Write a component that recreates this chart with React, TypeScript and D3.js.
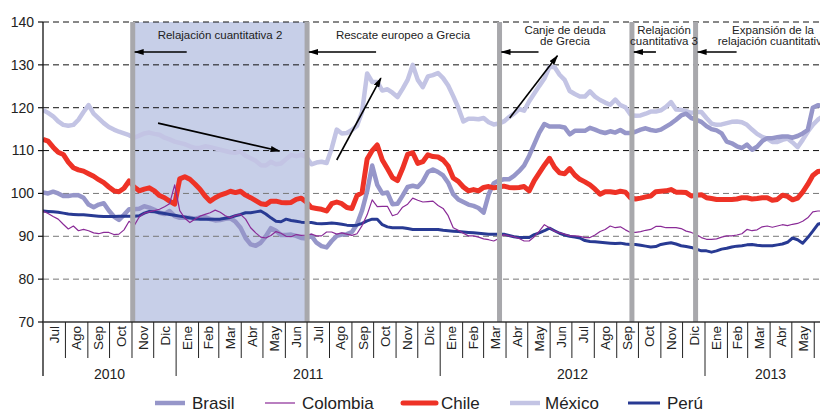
import React from 'react';
import * as d3 from 'd3';

const W = 820;
const H = 412;

const startDate = new Date(2010, 6, 1);
const yTicks = [70, 80, 90, 100, 110, 120, 130, 140];
const monthNames = ['Ene', 'Feb', 'Mar', 'Abr', 'May', 'Jun', 'Jul', 'Ago', 'Sep', 'Oct', 'Nov', 'Dic'];
const yearLabels = ['2010', '2011', '2012', '2013'];
const seriesNames = ['Brasil', 'Colombia', 'Chile', 'México', 'Perú'];

// weekly index values (start 1 Jul 2010)
const brasil = [
  100.2, 100.0, 100.4, 100.0, 99.4, 99.4, 99.6, 99.6, 99.0, 97.4,
  96.8, 97.4, 97.7, 96.0, 94.6, 93.8, 95.0, 96.3, 96.3, 96.4,
  97.0, 96.7, 96.2, 95.5, 95.2, 95.9, 94.7, 94.3, 94.3, 94.3,
  94.1, 94.4, 94.5, 94.0, 93.7, 93.8, 94.1, 94.2, 93.4, 92.0,
  89.6, 88.1, 87.8, 88.5, 90.0, 91.9, 91.3, 90.3, 90.3, 90.4,
  90.1, 89.6, 89.5, 90.1, 88.5, 87.7, 87.4, 88.9, 90.1, 90.4,
  90.5, 91.0, 92.8, 96.0, 100.5, 106.5, 102.0, 100.0, 100.2, 97.5,
  97.6, 99.5, 101.5, 101.8, 101.5, 102.8, 105.0, 105.6, 105.0, 104.2,
  102.5, 99.8, 98.6, 98.0, 97.4, 97.1, 96.6, 95.5, 99.8, 102.4,
  103.0, 103.3, 103.3, 104.1, 105.2, 106.5, 108.8, 111.5, 114.2, 116.2,
  115.6, 115.6, 115.6, 115.4, 113.8, 114.6, 114.6, 114.6, 115.3, 114.9,
  114.4, 114.1, 114.5, 114.2, 114.8, 114.1, 114.1, 114.4, 114.9, 115.2,
  114.8, 114.6, 114.9, 115.6, 116.3, 117.2, 118.2, 118.6, 117.6, 117.2,
  116.7, 115.7, 115.0, 114.7, 114.0, 112.1, 111.7, 111.0, 110.6, 111.4,
  110.2, 110.9, 112.2, 112.9, 112.9, 113.1, 113.3, 113.3, 113.0, 113.4,
  114.0, 114.8, 120.0, 120.6, 120.3,
];

const colombia = [
  95.9, 95.3, 94.6, 94.0, 92.8, 91.7, 92.4, 91.3, 91.6, 91.3,
  90.8, 90.6, 90.9, 90.9, 90.4, 90.5, 91.5, 93.5, 92.5, 94.5,
  95.4, 95.7, 96.0, 96.3, 96.9, 97.6, 102.0, 96.0, 94.2, 93.2,
  94.0, 94.7, 95.1, 95.5, 96.1, 95.6, 94.8, 94.3, 94.9, 95.1,
  94.0, 92.0, 90.8, 89.8, 89.6, 90.2, 91.1, 90.7, 90.0, 89.9,
  90.4, 90.2, 90.3, 90.5, 90.1, 90.1, 91.0, 91.0, 90.5, 90.8,
  90.5, 90.2, 90.6, 92.5, 95.0, 98.5, 96.9, 97.0, 97.0, 94.8,
  95.2, 96.8, 97.5, 98.9, 98.4, 98.0, 98.1, 98.2, 97.2, 96.5,
  94.8, 92.0, 91.4, 90.7, 90.1, 90.1, 89.8, 89.4, 89.2, 88.9,
  89.5, 90.4, 90.1, 89.9, 89.5, 88.9, 88.9, 89.9, 91.2, 92.7,
  92.0, 91.2, 90.8, 90.5, 90.1, 90.1, 90.0, 89.7, 89.7, 90.3,
  91.1, 91.6, 92.4, 92.0, 92.2, 91.5, 90.9, 90.9, 91.1, 91.4,
  91.6, 92.3, 92.3, 92.0, 92.0, 92.0, 91.8, 91.2, 90.9, 90.4,
  89.7, 89.3, 89.3, 89.4, 89.8, 90.1, 90.1, 90.3, 90.6, 91.6,
  91.3, 91.5, 92.2, 92.4, 92.1, 92.4, 92.7, 92.5, 92.8, 93.0,
  93.5, 94.3, 95.7, 95.9, 95.9,
];

const chile = [
  112.6, 112.2, 110.8, 109.6, 109.1, 107.3, 106.0, 105.5, 105.2, 104.6,
  104.0, 103.2, 102.5, 101.5, 100.6, 100.4, 101.2, 102.9, 101.5, 100.6,
  101.0, 101.3, 100.6, 99.5, 99.0, 98.2, 97.5, 103.4, 103.9, 103.3,
  102.2, 101.0, 99.4, 98.2, 99.0, 99.6, 100.0, 100.5, 100.2, 100.5,
  99.6, 99.0, 98.3, 97.6, 97.4, 98.2, 98.2, 97.9, 97.8, 97.9,
  98.6, 98.9, 98.0, 96.7, 96.5, 96.3, 95.9, 97.6, 98.0, 97.6,
  96.7, 96.5, 99.5, 100.2, 108.0, 110.0, 111.3, 107.8, 105.8, 103.7,
  103.0, 105.8, 109.1, 109.5, 107.0, 107.4, 109.0, 108.6, 108.5, 107.8,
  106.4, 103.6, 102.8, 101.5, 100.6, 100.9, 100.6, 101.4, 101.6, 101.3,
  101.5, 101.7, 101.4, 101.3, 101.4, 101.6, 100.6, 103.0, 104.8, 106.6,
  108.2, 106.1, 104.8, 104.6, 105.8, 104.3, 103.3, 102.7, 102.0, 101.0,
  99.8, 100.4, 100.4, 100.2, 100.5, 100.3, 99.0, 98.7, 98.9, 99.2,
  99.4, 100.4, 100.5, 100.6, 100.9, 100.3, 100.3, 100.2, 99.4, 99.6,
  99.7, 99.0, 98.8, 98.6, 98.6, 98.6, 98.6, 98.7, 99.0, 99.0,
  98.7, 98.8, 99.0, 99.0, 98.4, 98.6, 99.6, 99.3, 98.5, 98.9,
  100.3, 102.1, 104.2, 105.1, 105.3,
];

const mexico = [
  119.5, 118.8, 118.0, 116.8, 116.0, 115.8, 116.0, 117.2, 119.0, 120.6,
  118.6, 117.5, 116.4, 115.5, 114.9, 114.4, 114.0, 113.6, 113.0, 113.5,
  114.0, 114.2, 113.9, 113.7, 113.0, 112.6, 112.1, 111.8, 111.5, 111.0,
  110.6, 110.6, 111.0, 110.8, 110.5, 110.2, 109.9, 109.6, 109.5, 109.8,
  108.8, 108.2, 107.6, 106.6, 106.5, 107.4, 106.8, 107.0, 108.0, 109.0,
  108.7, 109.0, 108.5, 106.8, 107.2, 107.4, 107.1, 110.5, 114.9, 114.0,
  114.1, 114.8, 115.8, 119.0, 128.0, 126.0, 126.0, 124.0, 124.3, 123.5,
  122.5, 124.4, 126.5, 130.0, 126.5, 124.8, 127.3, 127.6, 128.1, 126.9,
  125.2, 122.7, 120.0, 116.8, 117.4, 117.4, 117.3, 117.6, 116.6, 116.1,
  116.3, 116.8, 117.8, 118.6, 119.7, 119.3, 121.5, 123.3, 125.1, 126.8,
  129.5, 129.5, 127.7, 126.5, 123.9, 123.2, 122.6, 122.6, 123.8, 122.6,
  121.8, 121.2, 120.7, 121.9, 120.6, 120.1, 118.4, 118.1, 118.2, 118.6,
  119.1, 119.1, 119.4, 120.2, 121.3, 119.6, 119.5, 119.2, 118.8, 119.0,
  119.0, 117.6, 116.3, 116.0, 116.1, 116.4, 116.7, 116.8, 116.6, 116.0,
  114.9, 113.9, 113.2, 112.8, 112.0, 112.0, 112.5, 112.8, 111.9, 110.8,
  112.5, 114.4, 116.0, 117.2, 118.0,
];

const peru = [
  95.9, 95.8, 95.7, 95.6, 95.4, 95.2, 95.1, 95.0, 95.0, 94.9,
  94.8, 94.7, 94.6, 94.6, 94.6, 94.7, 94.7, 94.7, 94.7, 94.8,
  95.4, 95.8, 95.7, 95.5, 95.3, 95.1, 94.9, 94.7, 94.5, 94.3,
  94.1, 94.0, 94.0, 94.0, 94.0, 94.0, 94.2, 94.4, 94.8, 95.1,
  95.5, 95.5, 95.7, 95.9, 95.2, 94.3, 93.5, 93.4, 94.0, 93.7,
  93.5, 93.3, 93.2, 93.2, 93.0, 92.9, 93.0, 93.1, 93.0, 92.8,
  92.6, 92.5, 92.6, 93.0, 93.6, 94.0, 94.0, 92.7, 92.2, 92.0,
  92.0, 92.0, 91.8, 91.6, 91.6, 91.6, 91.6, 91.6, 91.6, 91.4,
  91.3, 91.2, 91.1, 91.0, 90.9, 90.8, 90.7, 90.6, 90.5, 90.5,
  90.5, 90.5, 90.2, 89.9, 89.7, 89.7, 89.7, 90.4, 90.8, 91.3,
  91.9, 91.3, 90.7, 90.3, 90.0, 89.8, 89.6, 89.0, 88.8, 88.7,
  88.6, 88.5, 88.4, 88.3, 88.4, 88.2, 88.1, 88.1, 87.9, 87.7,
  87.5, 87.6, 88.1, 88.3, 88.5, 88.2, 87.8, 87.6, 87.4, 87.0,
  86.6, 86.6, 86.3, 86.6, 87.0, 87.2, 87.5, 87.7, 87.8, 88.0,
  88.1, 87.9, 87.8, 87.8, 87.8, 88.0, 88.2, 88.6, 89.6, 89.2,
  88.4, 89.7, 91.2, 92.8, 93.2,
];

const eventDates = [
  new Date(2010, 10, 2),
  new Date(2011, 6, 1),
  new Date(2012, 2, 23),
  new Date(2012, 8, 22),
  new Date(2012, 11, 19),
];
const eventLabels = [
  ['Relajación cuantitativa 2'],
  ['Rescate europeo a Grecia'],
  ['Canje de deuda', 'de Grecia'],
  ['Relajación', 'cuantitativa 3'],
  ['Expansión de la', 'relajación cuantitativa'],
];
// trend arrows: [fromDate, fromValue, toDate, toValue]
const trendArrows: [Date, number, Date, number][] = [
  [new Date(2010, 11, 7), 116.4, new Date(2011, 4, 24), 109.9],
  [new Date(2011, 7, 11), 107.8, new Date(2011, 9, 11), 126.9],
  [new Date(2012, 3, 6), 117.6, new Date(2012, 5, 11), 132.1],
];

const FONT = '"Liberation Sans", Arial, Helvetica, sans-serif';

export default function App() {
  const left = 43;
  const top = 22;
  const bottom = 322;

  const x = d3.scaleTime().domain([startDate, new Date(2013, 0, 1)]).range([left, 705]);
  const y = d3.scaleLinear().domain([70, 140]).range([bottom, top]);

  const dates = d3.range(brasil.length).map((i) => d3.timeDay.offset(startDate, 7 * i));
  const line = d3
    .line<number>()
    .x((_, i) => x(dates[i]))
    .y((v) => y(v));

  const endDate = new Date(2013, 6, 1);
  const months = d3.timeMonth.range(startDate, endDate);
  const yearStarts = [new Date(2011, 0, 1), new Date(2012, 0, 1), new Date(2013, 0, 1)];
  const yearRanges = [
    [startDate, new Date(2011, 0, 1)],
    [new Date(2011, 0, 1), new Date(2012, 0, 1)],
    [new Date(2012, 0, 1), new Date(2013, 0, 1)],
    [new Date(2013, 0, 1), endDate],
  ];

  const series = [
    { name: seriesNames[3], data: mexico, color: '#c3c4e4', width: 4.5 },
    { name: seriesNames[0], data: brasil, color: '#9696c9', width: 4.5 },
    { name: seriesNames[4], data: peru, color: '#283a93', width: 3 },
    { name: seriesNames[2], data: chile, color: '#ee3226', width: 5 },
    { name: seriesNames[1], data: colombia, color: '#8a2b97', width: 1.2 },
  ];

  const legend = [
    { name: seriesNames[0], color: '#9696c9', width: 4.5, x0: 155, x1: 185, tx: 192 },
    { name: seriesNames[1], color: '#8a2b97', width: 1.2, x0: 265, x1: 295, tx: 302 },
    { name: seriesNames[2], color: '#ee3226', width: 5, x0: 403, x1: 436, tx: 441 },
    { name: seriesNames[3], color: '#c3c4e4', width: 4.5, x0: 510, x1: 540, tx: 545 },
    { name: seriesNames[4], color: '#283a93', width: 3, x0: 628, x1: 660, tx: 667 },
  ];

  const labelPos = [
    { cx: 220, ys: [39] },
    { cx: 403, ys: [39] },
    { cx: 565, ys: [34, 45] },
    { cx: 664, ys: [34, 45] },
    { cx: 773, ys: [34, 45] },
  ];
  const arrowLen = [52, 67, 37, 22, 39];

  return (
    <svg
      width={W}
      height={H}
      viewBox={`0 0 ${W} ${H}`}
      style={{ position: 'absolute', left: 0, top: 0, background: '#fff', fontFamily: FONT }}
    >
      <defs>
        <marker id="ah" viewBox="0 0 10 6" refX="9" refY="3" markerWidth="10" markerHeight="6" markerUnits="userSpaceOnUse" orient="auto">
          <path d="M0,0 L10,3 L0,6 z" fill="#000" />
        </marker>
        <clipPath id="plot">
          <rect x={left} y={0} width={W - left} height={bottom} />
        </clipPath>
      </defs>

      {/* QE2 shaded region */}
      <rect
        x={x(eventDates[0])}
        y={top}
        width={x(eventDates[1]) - x(eventDates[0])}
        height={bottom - top}
        fill="#c7cfe8"
      />

      {/* grid */}
      {yTicks.filter((t) => t > 70).map((t) => (
        <line
          key={t}
          x1={left}
          x2={W}
          y1={y(t)}
          y2={y(t)}
          stroke={t >= 110 ? '#111' : '#777'}
          strokeWidth={1}
          strokeDasharray="6 4"
        />
      ))}

      {/* series */}
      <g clipPath="url(#plot)">
        {series.map((s) => (
          <path
            key={s.name}
            d={line(s.data) || ''}
            fill="none"
            stroke={s.color}
            strokeWidth={s.width}
            strokeLinejoin="round"
          />
        ))}
      </g>

      {/* event bars */}
      {eventDates.map((d, i) => (
        <rect key={i} x={x(d) - 2.5} y={top} width={5} height={bottom - top} fill="#a8a8ac" />
      ))}

      {/* event arrows */}
      {eventDates.map((d, i) => (
        <line
          key={i}
          x1={x(d) + 2 + arrowLen[i]}
          x2={x(d) + 2}
          y1={52}
          y2={52}
          stroke="#000"
          strokeWidth={1.6}
          markerEnd="url(#ah)"
        />
      ))}

      {/* event labels */}
      {eventLabels.map((lines, i) =>
        lines.map((t, j) => (
          <text
            key={`${i}-${j}`}
            x={labelPos[i].cx}
            y={labelPos[i].ys[j]}
            textAnchor="middle"
            fontSize={11.5}
            fill="#222"
          >
            {t}
          </text>
        ))
      )}

      {/* trend arrows */}
      {trendArrows.map((a, i) => (
        <line
          key={i}
          x1={x(a[0])}
          y1={y(a[1])}
          x2={x(a[2])}
          y2={y(a[3])}
          stroke="#000"
          strokeWidth={1.6}
          markerEnd="url(#ah)"
        />
      ))}

      {/* y axis */}
      <line x1={left} x2={left} y1={top} y2={376} stroke="#111" strokeWidth={1.3} />
      {yTicks.map((t) => (
        <g key={t}>
          <line x1={left - 5} x2={left} y1={y(t)} y2={y(t)} stroke="#111" strokeWidth={1.2} />
          <text x={34} y={y(t)} dy="0.35em" textAnchor="end" fontSize={14} fill="#222">
            {t}
          </text>
        </g>
      ))}

      {/* x axis */}
      <line x1={left} x2={W} y1={bottom} y2={bottom} stroke="#333" strokeWidth={1.3} />
      {months.map((m, i) => {
        const isYear = m.getMonth() === 0;
        const next = d3.timeMonth.offset(m, 1);
        const cx = (x(m) + x(next)) / 2;
        return (
          <g key={i}>
            {i > 0 && (
              <line x1={x(m)} x2={x(m)} y1={bottom} y2={isYear ? 376 : 358} stroke="#222" strokeWidth={1} />
            )}
            <text
              transform={`translate(${cx},${bottom + 4}) rotate(-90)`}
              textAnchor="end"
              dy="0.35em"
              fontSize={13.5}
              fill="#222"
            >
              {monthNames[m.getMonth()]}
            </text>
          </g>
        );
      })}
      {yearRanges.map((r, i) => (
        <text
          key={i}
          x={(x(r[0]) + x(r[1])) / 2}
          y={379}
          textAnchor="middle"
          fontSize={14}
          fill="#222"
        >
          {yearLabels[i]}
        </text>
      ))}

      {/* legend */}
      {legend.map((l) => (
        <g key={l.name}>
          <line
            x1={l.x0}
            x2={l.x1}
            y1={403}
            y2={403}
            stroke={l.color}
            strokeWidth={l.width}
            strokeLinecap={l.name === 'Chile' ? 'round' : 'butt'}
          />
          <text x={l.tx} y={403} dy="0.36em" fontSize={17} fill="#222">
            {l.name}
          </text>
        </g>
      ))}
    </svg>
  );
}
